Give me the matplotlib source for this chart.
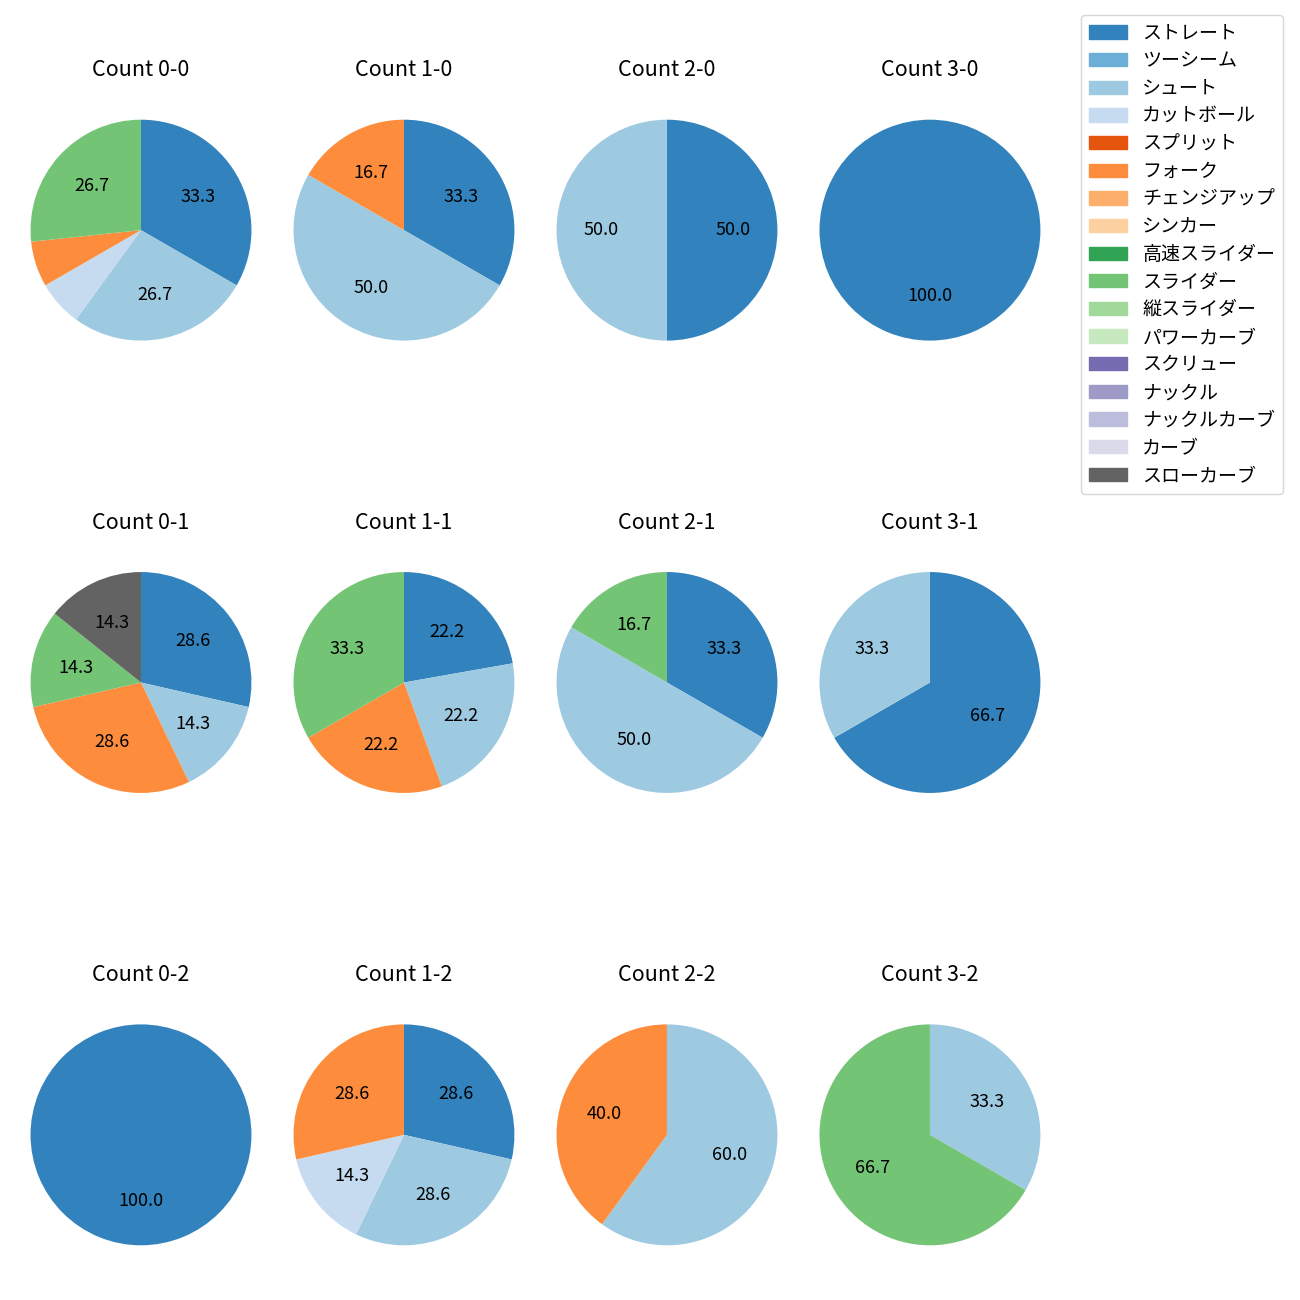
import matplotlib
matplotlib.use("Agg")
import matplotlib.pyplot as plt
from matplotlib.patches import Patch

plt.rcParams['font.family'] = ['Noto Sans CJK JP', 'DejaVu Sans']

pitch_types = ['ストレート', 'ツーシーム', 'シュート', 'カットボール', 'スプリット',
               'フォーク', 'チェンジアップ', 'シンカー', '高速スライダー', 'スライダー',
               '縦スライダー', 'パワーカーブ', 'スクリュー', 'ナックル', 'ナックルカーブ',
               'カーブ', 'スローカーブ']
pitch_colors = ['#3182bd', '#6baed6', '#9ecae1', '#c6dbef', '#e6550d',
                '#fd8d3c', '#fdae6b', '#fdd0a2', '#31a354', '#74c476',
                '#a1d99b', '#c7e9c0', '#756bb1', '#9e9ac8', '#bcbddc',
                '#dadaeb', '#636363']

# pitch counts per ball-strike count, {pitch type: number}
counts = ['0-0', '1-0', '2-0', '3-0',
          '0-1', '1-1', '2-1', '3-1',
          '0-2', '1-2', '2-2', '3-2']
count_00 = {'ストレート': 5, 'シュート': 4, 'カットボール': 1, 'フォーク': 1, 'スライダー': 4}
count_10 = {'ストレート': 2, 'シュート': 3, 'フォーク': 1}
count_20 = {'ストレート': 1, 'シュート': 1}
count_30 = {'ストレート': 1}
count_01 = {'ストレート': 2, 'シュート': 1, 'フォーク': 2, 'スライダー': 1, 'スローカーブ': 1}
count_11 = {'ストレート': 2, 'シュート': 2, 'フォーク': 2, 'スライダー': 3}
count_21 = {'ストレート': 2, 'シュート': 3, 'スライダー': 1}
count_31 = {'ストレート': 2, 'シュート': 1}
count_02 = {'ストレート': 1}
count_12 = {'ストレート': 2, 'シュート': 2, 'カットボール': 1, 'フォーク': 2}
count_22 = {'シュート': 3, 'フォーク': 2}
count_32 = {'シュート': 1, 'スライダー': 2}
all_counts = [count_00, count_10, count_20, count_30,
              count_01, count_11, count_21, count_31,
              count_02, count_12, count_22, count_32]


def pct_label(p):
    return f'{p:.1f}' if p >= 10 else ''


fig, axes = plt.subplots(3, 4, figsize=(13, 13))
fig.subplots_adjust(left=0.0073, right=0.8165, bottom=0.0258, top=0.9242,
                    wspace=0.0, hspace=0.7186)

for ax, name, data in zip(axes.flat, counts, all_counts):
    labels = list(data.keys())
    sizes = list(data.values())
    colors = [pitch_colors[pitch_types.index(l)] for l in labels]
    ax.pie(sizes, colors=colors, startangle=90, counterclock=False,
           autopct=pct_label, radius=1.05, textprops={'fontsize': 13})
    ax.set_title(f'Count {name}', fontsize=15.5, pad=16)

handles = [Patch(color=c) for c in pitch_colors]
fig.legend(handles, pitch_types, loc='upper right', borderaxespad=0,
           bbox_to_anchor=(0.9869, 0.9885), fontsize=13.7, labelspacing=0.35)

fig.savefig('out.png', dpi=100)
